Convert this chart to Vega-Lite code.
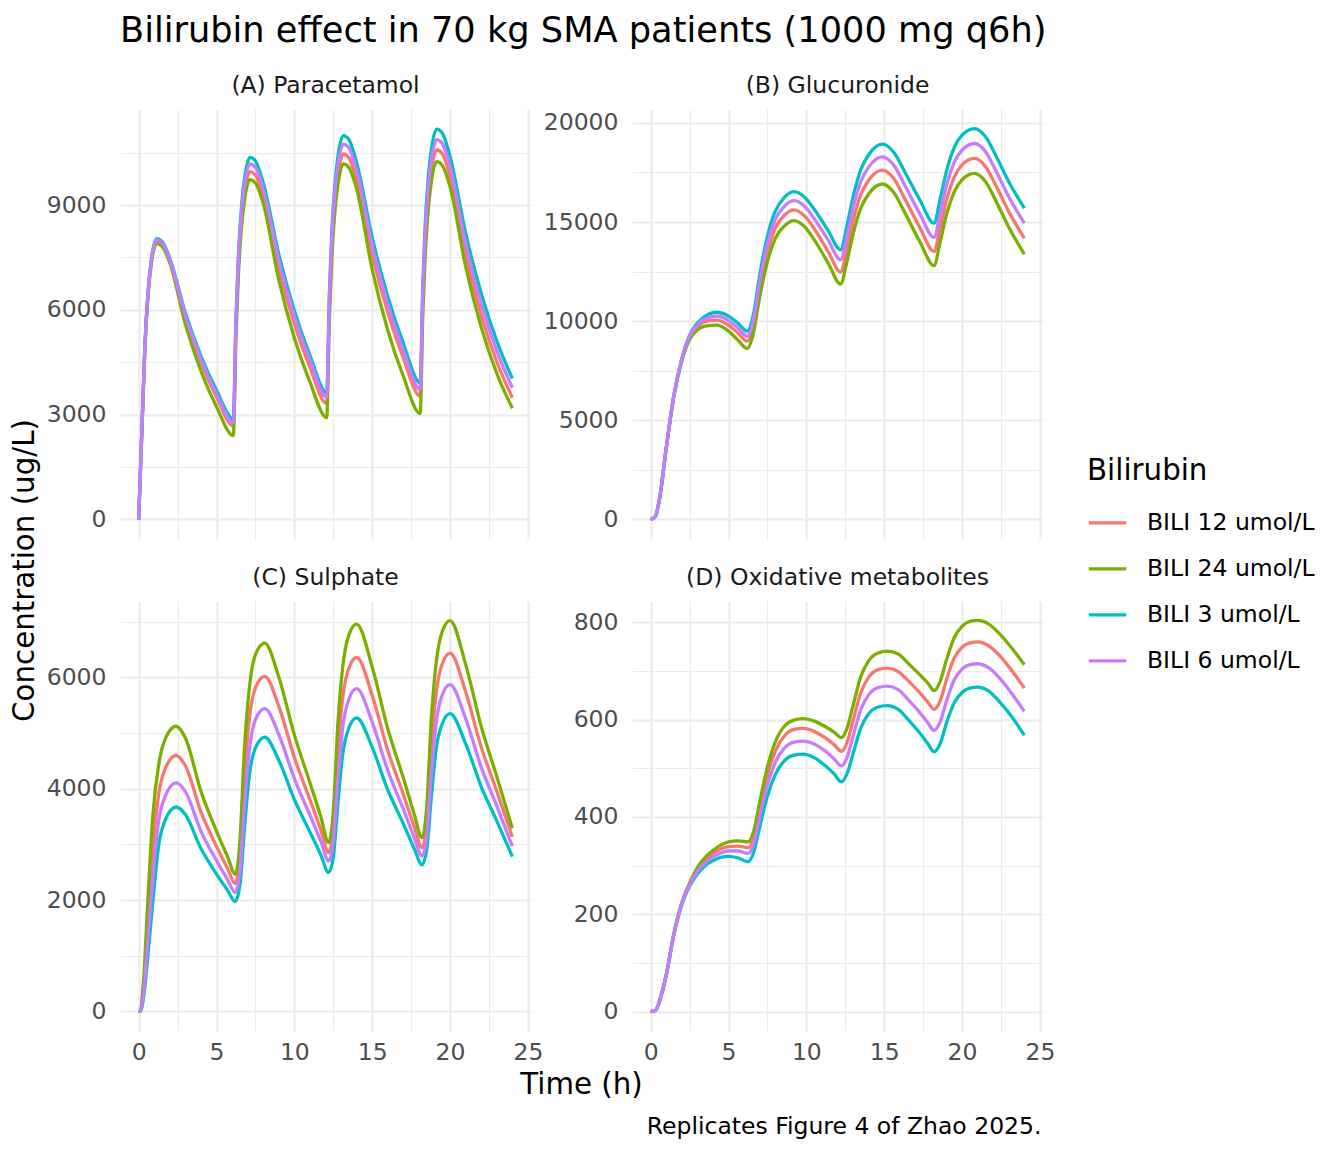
{
  "$schema": "https://vega.github.io/schema/vega-lite/v6.json",
  "background": "white",
  "padding": {"left": 10, "top": 14, "right": 10, "bottom": 10},
  "title": {
    "text": "Bilirubin effect in 70 kg SMA patients (1000 mg q6h)",
    "anchor": "start",
    "frame": "group",
    "fontSize": 35.2,
    "fontWeight": "normal",
    "color": "black",
    "offset": 24
  },
  "datasets": {
    "A": [
      {"t":0,"b":"BILI 12 umol/L","c":0},{"t":0.25,"b":"BILI 12 umol/L","c":3104},{"t":0.4,"b":"BILI 12 umol/L","c":4935},{"t":0.6,"b":"BILI 12 umol/L","c":6448},{"t":0.8,"b":"BILI 12 umol/L","c":7323},{"t":1.15,"b":"BILI 12 umol/L","c":7960},{"t":1.5,"b":"BILI 12 umol/L","c":7880},{"t":2,"b":"BILI 12 umol/L","c":7403},{"t":3,"b":"BILI 12 umol/L","c":5771},{"t":4,"b":"BILI 12 umol/L","c":4499},{"t":5,"b":"BILI 12 umol/L","c":3508},
      {"t":6.08,"b":"BILI 12 umol/L","c":2680},{"t":6.25,"b":"BILI 12 umol/L","c":5519},{"t":6.4,"b":"BILI 12 umol/L","c":7193},{"t":6.6,"b":"BILI 12 umol/L","c":8576},{"t":6.8,"b":"BILI 12 umol/L","c":9377},{"t":7.15,"b":"BILI 12 umol/L","c":9959},{"t":7.5,"b":"BILI 12 umol/L","c":9859},{"t":8,"b":"BILI 12 umol/L","c":9262},{"t":9,"b":"BILI 12 umol/L","c":7199},{"t":10,"b":"BILI 12 umol/L","c":5596},{"t":11,"b":"BILI 12 umol/L","c":4350},
      {"t":12.08,"b":"BILI 12 umol/L","c":3313},{"t":12.25,"b":"BILI 12 umol/L","c":6101},{"t":12.4,"b":"BILI 12 umol/L","c":7745},{"t":12.6,"b":"BILI 12 umol/L","c":9104},{"t":12.8,"b":"BILI 12 umol/L","c":9890},{"t":13.15,"b":"BILI 12 umol/L","c":10462},{"t":13.5,"b":"BILI 12 umol/L","c":10357},{"t":14,"b":"BILI 12 umol/L","c":9730},{"t":15,"b":"BILI 12 umol/L","c":7589},{"t":16,"b":"BILI 12 umol/L","c":5920},{"t":17,"b":"BILI 12 umol/L","c":4617},
      {"t":18.08,"b":"BILI 12 umol/L","c":3532},{"t":18.25,"b":"BILI 12 umol/L","c":6279},{"t":18.4,"b":"BILI 12 umol/L","c":7899},{"t":18.6,"b":"BILI 12 umol/L","c":9238},{"t":18.8,"b":"BILI 12 umol/L","c":10012},{"t":19.15,"b":"BILI 12 umol/L","c":10576},{"t":19.5,"b":"BILI 12 umol/L","c":10470},{"t":20,"b":"BILI 12 umol/L","c":9836},{"t":21,"b":"BILI 12 umol/L","c":7587},{"t":22,"b":"BILI 12 umol/L","c":5853},{"t":23,"b":"BILI 12 umol/L","c":4515},{"t":24,"b":"BILI 12 umol/L","c":3484},

      {"t":0,"b":"BILI 24 umol/L","c":0},{"t":0.25,"b":"BILI 24 umol/L","c":3081},{"t":0.4,"b":"BILI 24 umol/L","c":4897},{"t":0.6,"b":"BILI 24 umol/L","c":6398},{"t":0.8,"b":"BILI 24 umol/L","c":7267},{"t":1.15,"b":"BILI 24 umol/L","c":7899},{"t":1.5,"b":"BILI 24 umol/L","c":7820},{"t":2,"b":"BILI 24 umol/L","c":7346},{"t":3,"b":"BILI 24 umol/L","c":5585},{"t":4,"b":"BILI 24 umol/L","c":4245},{"t":5,"b":"BILI 24 umol/L","c":3228},
      {"t":6.08,"b":"BILI 24 umol/L","c":2400},{"t":6.25,"b":"BILI 24 umol/L","c":5259},{"t":6.4,"b":"BILI 24 umol/L","c":6945},{"t":6.6,"b":"BILI 24 umol/L","c":8338},{"t":6.8,"b":"BILI 24 umol/L","c":9145},{"t":7.15,"b":"BILI 24 umol/L","c":9731},{"t":7.5,"b":"BILI 24 umol/L","c":9634},{"t":8,"b":"BILI 24 umol/L","c":9050},{"t":9,"b":"BILI 24 umol/L","c":6855},{"t":10,"b":"BILI 24 umol/L","c":5193},{"t":11,"b":"BILI 24 umol/L","c":3934},
      {"t":12.08,"b":"BILI 24 umol/L","c":2915},{"t":12.25,"b":"BILI 24 umol/L","c":5748},{"t":12.4,"b":"BILI 24 umol/L","c":7418},{"t":12.6,"b":"BILI 24 umol/L","c":8798},{"t":12.8,"b":"BILI 24 umol/L","c":9597},{"t":13.15,"b":"BILI 24 umol/L","c":10178},{"t":13.5,"b":"BILI 24 umol/L","c":10076},{"t":14,"b":"BILI 24 umol/L","c":9466},{"t":15,"b":"BILI 24 umol/L","c":7159},{"t":16,"b":"BILI 24 umol/L","c":5414},{"t":17,"b":"BILI 24 umol/L","c":4095},
      {"t":18.08,"b":"BILI 24 umol/L","c":3029},{"t":18.25,"b":"BILI 24 umol/L","c":5843},{"t":18.4,"b":"BILI 24 umol/L","c":7502},{"t":18.6,"b":"BILI 24 umol/L","c":8873},{"t":18.8,"b":"BILI 24 umol/L","c":9667},{"t":19.15,"b":"BILI 24 umol/L","c":10244},{"t":19.5,"b":"BILI 24 umol/L","c":10142},{"t":20,"b":"BILI 24 umol/L","c":9527},{"t":21,"b":"BILI 24 umol/L","c":7242},{"t":22,"b":"BILI 24 umol/L","c":5506},{"t":23,"b":"BILI 24 umol/L","c":4185},{"t":24,"b":"BILI 24 umol/L","c":3181},

      {"t":0,"b":"BILI 3 umol/L","c":0},{"t":0.25,"b":"BILI 3 umol/L","c":3136},{"t":0.4,"b":"BILI 3 umol/L","c":4985},{"t":0.6,"b":"BILI 3 umol/L","c":6513},{"t":0.8,"b":"BILI 3 umol/L","c":7398},{"t":1.15,"b":"BILI 3 umol/L","c":8041},{"t":1.5,"b":"BILI 3 umol/L","c":7960},{"t":2,"b":"BILI 3 umol/L","c":7478},{"t":3,"b":"BILI 3 umol/L","c":5914},{"t":4,"b":"BILI 3 umol/L","c":4677},{"t":5,"b":"BILI 3 umol/L","c":3698},
      {"t":6.08,"b":"BILI 3 umol/L","c":2870},{"t":6.25,"b":"BILI 3 umol/L","c":5794},{"t":6.4,"b":"BILI 3 umol/L","c":7518},{"t":6.6,"b":"BILI 3 umol/L","c":8942},{"t":6.8,"b":"BILI 3 umol/L","c":9767},{"t":7.15,"b":"BILI 3 umol/L","c":10367},{"t":7.5,"b":"BILI 3 umol/L","c":10263},{"t":8,"b":"BILI 3 umol/L","c":9641},{"t":9,"b":"BILI 3 umol/L","c":7588},{"t":10,"b":"BILI 3 umol/L","c":5972},{"t":11,"b":"BILI 3 umol/L","c":4700},
      {"t":12.08,"b":"BILI 3 umol/L","c":3627},{"t":12.25,"b":"BILI 3 umol/L","c":6497},{"t":12.4,"b":"BILI 3 umol/L","c":8189},{"t":12.6,"b":"BILI 3 umol/L","c":9587},{"t":12.8,"b":"BILI 3 umol/L","c":10396},{"t":13.15,"b":"BILI 3 umol/L","c":10985},{"t":13.5,"b":"BILI 3 umol/L","c":10875},{"t":14,"b":"BILI 3 umol/L","c":10216},{"t":15,"b":"BILI 3 umol/L","c":8074},{"t":16,"b":"BILI 3 umol/L","c":6381},{"t":17,"b":"BILI 3 umol/L","c":5043},
      {"t":18.08,"b":"BILI 3 umol/L","c":3912},{"t":18.25,"b":"BILI 3 umol/L","c":6745},{"t":18.4,"b":"BILI 3 umol/L","c":8415},{"t":18.6,"b":"BILI 3 umol/L","c":9795},{"t":18.8,"b":"BILI 3 umol/L","c":10594},{"t":19.15,"b":"BILI 3 umol/L","c":11175},{"t":19.5,"b":"BILI 3 umol/L","c":11063},{"t":20,"b":"BILI 3 umol/L","c":10393},{"t":21,"b":"BILI 3 umol/L","c":8203},{"t":22,"b":"BILI 3 umol/L","c":6475},{"t":23,"b":"BILI 3 umol/L","c":5111},{"t":24,"b":"BILI 3 umol/L","c":4035},

      {"t":0,"b":"BILI 6 umol/L","c":0},{"t":0.25,"b":"BILI 6 umol/L","c":3120},{"t":0.4,"b":"BILI 6 umol/L","c":4960},{"t":0.6,"b":"BILI 6 umol/L","c":6480},{"t":0.8,"b":"BILI 6 umol/L","c":7360},{"t":1.15,"b":"BILI 6 umol/L","c":8000},{"t":1.5,"b":"BILI 6 umol/L","c":7920},{"t":2,"b":"BILI 6 umol/L","c":7440},{"t":3,"b":"BILI 6 umol/L","c":5840},{"t":4,"b":"BILI 6 umol/L","c":4584},{"t":5,"b":"BILI 6 umol/L","c":3598},
      {"t":6.08,"b":"BILI 6 umol/L","c":2770},{"t":6.25,"b":"BILI 6 umol/L","c":5659},{"t":6.4,"b":"BILI 6 umol/L","c":7363},{"t":6.6,"b":"BILI 6 umol/L","c":8770},{"t":6.8,"b":"BILI 6 umol/L","c":9585},{"t":7.15,"b":"BILI 6 umol/L","c":10178},{"t":7.5,"b":"BILI 6 umol/L","c":10076},{"t":8,"b":"BILI 6 umol/L","c":9466},{"t":9,"b":"BILI 6 umol/L","c":7419},{"t":10,"b":"BILI 6 umol/L","c":5815},{"t":11,"b":"BILI 6 umol/L","c":4558},
      {"t":12.08,"b":"BILI 6 umol/L","c":3503},{"t":12.25,"b":"BILI 6 umol/L","c":6328},{"t":12.4,"b":"BILI 6 umol/L","c":7994},{"t":12.6,"b":"BILI 6 umol/L","c":9371},{"t":12.8,"b":"BILI 6 umol/L","c":10167},{"t":13.15,"b":"BILI 6 umol/L","c":10747},{"t":13.5,"b":"BILI 6 umol/L","c":10640},{"t":14,"b":"BILI 6 umol/L","c":9995},{"t":15,"b":"BILI 6 umol/L","c":7846},{"t":16,"b":"BILI 6 umol/L","c":6159},{"t":17,"b":"BILI 6 umol/L","c":4835},
      {"t":18.08,"b":"BILI 6 umol/L","c":3722},{"t":18.25,"b":"BILI 6 umol/L","c":6510},{"t":18.4,"b":"BILI 6 umol/L","c":8154},{"t":18.6,"b":"BILI 6 umol/L","c":9513},{"t":18.8,"b":"BILI 6 umol/L","c":10299},{"t":19.15,"b":"BILI 6 umol/L","c":10871},{"t":19.5,"b":"BILI 6 umol/L","c":10762},{"t":20,"b":"BILI 6 umol/L","c":10110},{"t":21,"b":"BILI 6 umol/L","c":7900},{"t":22,"b":"BILI 6 umol/L","c":6173},{"t":23,"b":"BILI 6 umol/L","c":4824},{"t":24,"b":"BILI 6 umol/L","c":3769}
    ],
    "B": [
      {"t":0,"b":"BILI 12 umol/L","c":0},{"t":0.3,"b":"BILI 12 umol/L","c":150},{"t":0.6,"b":"BILI 12 umol/L","c":1200},{"t":1,"b":"BILI 12 umol/L","c":3600},{"t":1.5,"b":"BILI 12 umol/L","c":6300},{"t":2,"b":"BILI 12 umol/L","c":8050},{"t":2.5,"b":"BILI 12 umol/L","c":9180},{"t":3,"b":"BILI 12 umol/L","c":9700},{"t":3.5,"b":"BILI 12 umol/L","c":9980},{"t":4.25,"b":"BILI 12 umol/L","c":10050},{"t":5,"b":"BILI 12 umol/L","c":9800},{"t":5.6,"b":"BILI 12 umol/L","c":9400},
      {"t":6.2,"b":"BILI 12 umol/L","c":8995},{"t":6.6,"b":"BILI 12 umol/L","c":9789},{"t":7,"b":"BILI 12 umol/L","c":11641},{"t":7.5,"b":"BILI 12 umol/L","c":13494},{"t":8,"b":"BILI 12 umol/L","c":14685},{"t":8.6,"b":"BILI 12 umol/L","c":15346},{"t":9.2,"b":"BILI 12 umol/L","c":15611},{"t":9.9,"b":"BILI 12 umol/L","c":15298},{"t":10.6,"b":"BILI 12 umol/L","c":14546},{"t":11.4,"b":"BILI 12 umol/L","c":13513},
      {"t":12.2,"b":"BILI 12 umol/L","c":12479},{"t":12.6,"b":"BILI 12 umol/L","c":13610},{"t":13,"b":"BILI 12 umol/L","c":15050},{"t":13.5,"b":"BILI 12 umol/L","c":16387},{"t":14,"b":"BILI 12 umol/L","c":17107},{"t":14.9,"b":"BILI 12 umol/L","c":17621},{"t":15.6,"b":"BILI 12 umol/L","c":17211},{"t":16.4,"b":"BILI 12 umol/L","c":16061},{"t":17.3,"b":"BILI 12 umol/L","c":14707},
      {"t":18.2,"b":"BILI 12 umol/L","c":13517},{"t":18.6,"b":"BILI 12 umol/L","c":14736},{"t":19,"b":"BILI 12 umol/L","c":16097},{"t":19.5,"b":"BILI 12 umol/L","c":17269},{"t":20,"b":"BILI 12 umol/L","c":17879},{"t":20.8,"b":"BILI 12 umol/L","c":18207},{"t":21.5,"b":"BILI 12 umol/L","c":17805},{"t":22.2,"b":"BILI 12 umol/L","c":16800},{"t":23,"b":"BILI 12 umol/L","c":15526},{"t":24,"b":"BILI 12 umol/L","c":14187},

      {"t":0,"b":"BILI 24 umol/L","c":0},{"t":0.3,"b":"BILI 24 umol/L","c":150},{"t":0.6,"b":"BILI 24 umol/L","c":1200},{"t":1,"b":"BILI 24 umol/L","c":3600},{"t":1.5,"b":"BILI 24 umol/L","c":6250},{"t":2,"b":"BILI 24 umol/L","c":8000},{"t":2.5,"b":"BILI 24 umol/L","c":9080},{"t":3,"b":"BILI 24 umol/L","c":9550},{"t":3.5,"b":"BILI 24 umol/L","c":9750},{"t":4.25,"b":"BILI 24 umol/L","c":9800},{"t":5,"b":"BILI 24 umol/L","c":9500},{"t":5.6,"b":"BILI 24 umol/L","c":9050},
      {"t":6.2,"b":"BILI 24 umol/L","c":8626},{"t":6.6,"b":"BILI 24 umol/L","c":9400},{"t":7,"b":"BILI 24 umol/L","c":11206},{"t":7.5,"b":"BILI 24 umol/L","c":13011},{"t":8,"b":"BILI 24 umol/L","c":14172},{"t":8.6,"b":"BILI 24 umol/L","c":14816},{"t":9.2,"b":"BILI 24 umol/L","c":15075},{"t":9.9,"b":"BILI 24 umol/L","c":14755},{"t":10.6,"b":"BILI 24 umol/L","c":13987},{"t":11.4,"b":"BILI 24 umol/L","c":12932},
      {"t":12.2,"b":"BILI 24 umol/L","c":11876},{"t":12.6,"b":"BILI 24 umol/L","c":12985},{"t":13,"b":"BILI 24 umol/L","c":14397},{"t":13.5,"b":"BILI 24 umol/L","c":15708},{"t":14,"b":"BILI 24 umol/L","c":16414},{"t":14.9,"b":"BILI 24 umol/L","c":16918},{"t":15.6,"b":"BILI 24 umol/L","c":16506},{"t":16.4,"b":"BILI 24 umol/L","c":15352},{"t":17.3,"b":"BILI 24 umol/L","c":13992},
      {"t":18.2,"b":"BILI 24 umol/L","c":12797},{"t":18.6,"b":"BILI 24 umol/L","c":14008},{"t":19,"b":"BILI 24 umol/L","c":15358},{"t":19.5,"b":"BILI 24 umol/L","c":16523},{"t":20,"b":"BILI 24 umol/L","c":17128},{"t":20.8,"b":"BILI 24 umol/L","c":17454},{"t":21.5,"b":"BILI 24 umol/L","c":17047},{"t":22.2,"b":"BILI 24 umol/L","c":16029},{"t":23,"b":"BILI 24 umol/L","c":14739},{"t":24,"b":"BILI 24 umol/L","c":13383},

      {"t":0,"b":"BILI 3 umol/L","c":0},{"t":0.3,"b":"BILI 3 umol/L","c":150},{"t":0.6,"b":"BILI 3 umol/L","c":1200},{"t":1,"b":"BILI 3 umol/L","c":3600},{"t":1.5,"b":"BILI 3 umol/L","c":6300},{"t":2,"b":"BILI 3 umol/L","c":8100},{"t":2.5,"b":"BILI 3 umol/L","c":9300},{"t":3,"b":"BILI 3 umol/L","c":9900},{"t":3.5,"b":"BILI 3 umol/L","c":10250},{"t":4.25,"b":"BILI 3 umol/L","c":10450},{"t":5,"b":"BILI 3 umol/L","c":10250},{"t":5.6,"b":"BILI 3 umol/L","c":9900},
      {"t":6.2,"b":"BILI 3 umol/L","c":9497},{"t":6.6,"b":"BILI 3 umol/L","c":10341},{"t":7,"b":"BILI 3 umol/L","c":12311},{"t":7.5,"b":"BILI 3 umol/L","c":14281},{"t":8,"b":"BILI 3 umol/L","c":15547},{"t":8.6,"b":"BILI 3 umol/L","c":16251},{"t":9.2,"b":"BILI 3 umol/L","c":16532},{"t":9.9,"b":"BILI 3 umol/L","c":16239},{"t":10.6,"b":"BILI 3 umol/L","c":15535},{"t":11.4,"b":"BILI 3 umol/L","c":14568},
      {"t":12.2,"b":"BILI 3 umol/L","c":13601},{"t":12.6,"b":"BILI 3 umol/L","c":14773},{"t":13,"b":"BILI 3 umol/L","c":16265},{"t":13.5,"b":"BILI 3 umol/L","c":17650},{"t":14,"b":"BILI 3 umol/L","c":18395},{"t":14.9,"b":"BILI 3 umol/L","c":18928},{"t":15.6,"b":"BILI 3 umol/L","c":18529},{"t":16.4,"b":"BILI 3 umol/L","c":17413},{"t":17.3,"b":"BILI 3 umol/L","c":16097},
      {"t":18.2,"b":"BILI 3 umol/L","c":14941},{"t":18.6,"b":"BILI 3 umol/L","c":16182},{"t":19,"b":"BILI 3 umol/L","c":17567},{"t":19.5,"b":"BILI 3 umol/L","c":18760},{"t":20,"b":"BILI 3 umol/L","c":19381},{"t":20.8,"b":"BILI 3 umol/L","c":19715},{"t":21.5,"b":"BILI 3 umol/L","c":19313},{"t":22.2,"b":"BILI 3 umol/L","c":18308},{"t":23,"b":"BILI 3 umol/L","c":17034},{"t":24,"b":"BILI 3 umol/L","c":15695},

      {"t":0,"b":"BILI 6 umol/L","c":0},{"t":0.3,"b":"BILI 6 umol/L","c":150},{"t":0.6,"b":"BILI 6 umol/L","c":1200},{"t":1,"b":"BILI 6 umol/L","c":3600},{"t":1.5,"b":"BILI 6 umol/L","c":6300},{"t":2,"b":"BILI 6 umol/L","c":8100},{"t":2.5,"b":"BILI 6 umol/L","c":9250},{"t":3,"b":"BILI 6 umol/L","c":9800},{"t":3.5,"b":"BILI 6 umol/L","c":10120},{"t":4.25,"b":"BILI 6 umol/L","c":10250},{"t":5,"b":"BILI 6 umol/L","c":10030},{"t":5.6,"b":"BILI 6 umol/L","c":9650},
      {"t":6.2,"b":"BILI 6 umol/L","c":9246},{"t":6.6,"b":"BILI 6 umol/L","c":10066},{"t":7,"b":"BILI 6 umol/L","c":11980},{"t":7.5,"b":"BILI 6 umol/L","c":13893},{"t":8,"b":"BILI 6 umol/L","c":15123},{"t":8.6,"b":"BILI 6 umol/L","c":15807},{"t":9.2,"b":"BILI 6 umol/L","c":16080},{"t":9.9,"b":"BILI 6 umol/L","c":15782},{"t":10.6,"b":"BILI 6 umol/L","c":15066},{"t":11.4,"b":"BILI 6 umol/L","c":14083},
      {"t":12.2,"b":"BILI 6 umol/L","c":13099},{"t":12.6,"b":"BILI 6 umol/L","c":14241},{"t":13,"b":"BILI 6 umol/L","c":15695},{"t":13.5,"b":"BILI 6 umol/L","c":17045},{"t":14,"b":"BILI 6 umol/L","c":17772},{"t":14.9,"b":"BILI 6 umol/L","c":18291},{"t":15.6,"b":"BILI 6 umol/L","c":17884},{"t":16.4,"b":"BILI 6 umol/L","c":16744},{"t":17.3,"b":"BILI 6 umol/L","c":15401},
      {"t":18.2,"b":"BILI 6 umol/L","c":14221},{"t":18.6,"b":"BILI 6 umol/L","c":15453},{"t":19,"b":"BILI 6 umol/L","c":16828},{"t":19.5,"b":"BILI 6 umol/L","c":18013},{"t":20,"b":"BILI 6 umol/L","c":18629},{"t":20.8,"b":"BILI 6 umol/L","c":18961},{"t":21.5,"b":"BILI 6 umol/L","c":18559},{"t":22.2,"b":"BILI 6 umol/L","c":17554},{"t":23,"b":"BILI 6 umol/L","c":16280},{"t":24,"b":"BILI 6 umol/L","c":14941}
    ],
    "C": [
      {"t":0,"b":"BILI 12 umol/L","c":0},{"t":0.1,"b":"BILI 12 umol/L","c":0},{"t":0.3,"b":"BILI 12 umol/L","c":391},{"t":0.6,"b":"BILI 12 umol/L","c":1655},{"t":0.9,"b":"BILI 12 umol/L","c":2896},{"t":1.3,"b":"BILI 12 umol/L","c":3930},{"t":1.7,"b":"BILI 12 umol/L","c":4358},{"t":2.4,"b":"BILI 12 umol/L","c":4597},{"t":3,"b":"BILI 12 umol/L","c":4413},{"t":4,"b":"BILI 12 umol/L","c":3585},{"t":5,"b":"BILI 12 umol/L","c":2965},{"t":5.7,"b":"BILI 12 umol/L","c":2574},
      {"t":6.2,"b":"BILI 12 umol/L","c":2298},{"t":6.5,"b":"BILI 12 umol/L","c":2782},{"t":6.8,"b":"BILI 12 umol/L","c":4232},{"t":7.1,"b":"BILI 12 umol/L","c":5237},{"t":7.5,"b":"BILI 12 umol/L","c":5813},{"t":8.1,"b":"BILI 12 umol/L","c":6018},{"t":9,"b":"BILI 12 umol/L","c":5480},{"t":10,"b":"BILI 12 umol/L","c":4563},{"t":11,"b":"BILI 12 umol/L","c":3803},{"t":11.7,"b":"BILI 12 umol/L","c":3265},
      {"t":12.2,"b":"BILI 12 umol/L","c":2854},{"t":12.5,"b":"BILI 12 umol/L","c":3310},{"t":12.8,"b":"BILI 12 umol/L","c":4676},{"t":13.1,"b":"BILI 12 umol/L","c":5622},{"t":13.5,"b":"BILI 12 umol/L","c":6165},{"t":14,"b":"BILI 12 umol/L","c":6358},{"t":15,"b":"BILI 12 umol/L","c":5675},{"t":16,"b":"BILI 12 umol/L","c":4685},{"t":17,"b":"BILI 12 umol/L","c":3899},{"t":17.7,"b":"BILI 12 umol/L","c":3319},
      {"t":18.2,"b":"BILI 12 umol/L","c":2943},{"t":18.5,"b":"BILI 12 umol/L","c":3397},{"t":18.8,"b":"BILI 12 umol/L","c":4759},{"t":19.1,"b":"BILI 12 umol/L","c":5702},{"t":19.5,"b":"BILI 12 umol/L","c":6244},{"t":20,"b":"BILI 12 umol/L","c":6436},{"t":21,"b":"BILI 12 umol/L","c":5743},{"t":22,"b":"BILI 12 umol/L","c":4752},{"t":23,"b":"BILI 12 umol/L","c":3960},{"t":24,"b":"BILI 12 umol/L","c":3134},

      {"t":0,"b":"BILI 24 umol/L","c":0},{"t":0.1,"b":"BILI 24 umol/L","c":0},{"t":0.3,"b":"BILI 24 umol/L","c":512},{"t":0.6,"b":"BILI 24 umol/L","c":2049},{"t":0.9,"b":"BILI 24 umol/L","c":3483},{"t":1.3,"b":"BILI 24 umol/L","c":4456},{"t":1.7,"b":"BILI 24 umol/L","c":4892},{"t":2.4,"b":"BILI 24 umol/L","c":5122},{"t":3,"b":"BILI 24 umol/L","c":4910},{"t":4,"b":"BILI 24 umol/L","c":3953},{"t":5,"b":"BILI 24 umol/L","c":3236},{"t":5.7,"b":"BILI 24 umol/L","c":2785},
      {"t":6.2,"b":"BILI 24 umol/L","c":2466},{"t":6.5,"b":"BILI 24 umol/L","c":3047},{"t":6.8,"b":"BILI 24 umol/L","c":4748},{"t":7.1,"b":"BILI 24 umol/L","c":5785},{"t":7.5,"b":"BILI 24 umol/L","c":6408},{"t":8.1,"b":"BILI 24 umol/L","c":6615},{"t":9,"b":"BILI 24 umol/L","c":6006},{"t":10,"b":"BILI 24 umol/L","c":4967},{"t":11,"b":"BILI 24 umol/L","c":4108},{"t":11.7,"b":"BILI 24 umol/L","c":3499},
      {"t":12.2,"b":"BILI 24 umol/L","c":3033},{"t":12.5,"b":"BILI 24 umol/L","c":3582},{"t":12.8,"b":"BILI 24 umol/L","c":5190},{"t":13.1,"b":"BILI 24 umol/L","c":6171},{"t":13.5,"b":"BILI 24 umol/L","c":6759},{"t":14,"b":"BILI 24 umol/L","c":6955},{"t":15,"b":"BILI 24 umol/L","c":6188},{"t":16,"b":"BILI 24 umol/L","c":5077},{"t":17,"b":"BILI 24 umol/L","c":4195},{"t":17.7,"b":"BILI 24 umol/L","c":3544},
      {"t":18.2,"b":"BILI 24 umol/L","c":3122},{"t":18.5,"b":"BILI 24 umol/L","c":3668},{"t":18.8,"b":"BILI 24 umol/L","c":5266},{"t":19.1,"b":"BILI 24 umol/L","c":6241},{"t":19.5,"b":"BILI 24 umol/L","c":6826},{"t":20,"b":"BILI 24 umol/L","c":7021},{"t":21,"b":"BILI 24 umol/L","c":6237},{"t":22,"b":"BILI 24 umol/L","c":5118},{"t":23,"b":"BILI 24 umol/L","c":4222},{"t":24,"b":"BILI 24 umol/L","c":3289},

      {"t":0,"b":"BILI 3 umol/L","c":0},{"t":0.1,"b":"BILI 3 umol/L","c":0},{"t":0.3,"b":"BILI 3 umol/L","c":220},{"t":0.6,"b":"BILI 3 umol/L","c":1028},{"t":0.9,"b":"BILI 3 umol/L","c":1946},{"t":1.3,"b":"BILI 3 umol/L","c":3011},{"t":1.7,"b":"BILI 3 umol/L","c":3433},{"t":2.4,"b":"BILI 3 umol/L","c":3672},{"t":3,"b":"BILI 3 umol/L","c":3536},{"t":4,"b":"BILI 3 umol/L","c":2926},{"t":5,"b":"BILI 3 umol/L","c":2468},{"t":5.7,"b":"BILI 3 umol/L","c":2180},
      {"t":6.2,"b":"BILI 3 umol/L","c":1976},{"t":6.5,"b":"BILI 3 umol/L","c":2271},{"t":6.8,"b":"BILI 3 umol/L","c":3303},{"t":7.1,"b":"BILI 3 umol/L","c":4217},{"t":7.5,"b":"BILI 3 umol/L","c":4733},{"t":8.1,"b":"BILI 3 umol/L","c":4925},{"t":9,"b":"BILI 3 umol/L","c":4512},{"t":10,"b":"BILI 3 umol/L","c":3807},{"t":11,"b":"BILI 3 umol/L","c":3224},{"t":11.7,"b":"BILI 3 umol/L","c":2811},
      {"t":12.2,"b":"BILI 3 umol/L","c":2495},{"t":12.5,"b":"BILI 3 umol/L","c":2773},{"t":12.8,"b":"BILI 3 umol/L","c":3745},{"t":13.1,"b":"BILI 3 umol/L","c":4606},{"t":13.5,"b":"BILI 3 umol/L","c":5091},{"t":14,"b":"BILI 3 umol/L","c":5272},{"t":15,"b":"BILI 3 umol/L","c":4744},{"t":16,"b":"BILI 3 umol/L","c":3979},{"t":17,"b":"BILI 3 umol/L","c":3372},{"t":17.7,"b":"BILI 3 umol/L","c":2923},
      {"t":18.2,"b":"BILI 3 umol/L","c":2633},{"t":18.5,"b":"BILI 3 umol/L","c":2905},{"t":18.8,"b":"BILI 3 umol/L","c":3855},{"t":19.1,"b":"BILI 3 umol/L","c":4697},{"t":19.5,"b":"BILI 3 umol/L","c":5172},{"t":20,"b":"BILI 3 umol/L","c":5349},{"t":21,"b":"BILI 3 umol/L","c":4810},{"t":22,"b":"BILI 3 umol/L","c":4040},{"t":23,"b":"BILI 3 umol/L","c":3424},{"t":24,"b":"BILI 3 umol/L","c":2782},

      {"t":0,"b":"BILI 6 umol/L","c":0},{"t":0.1,"b":"BILI 6 umol/L","c":0},{"t":0.3,"b":"BILI 6 umol/L","c":287},{"t":0.6,"b":"BILI 6 umol/L","c":1314},{"t":0.9,"b":"BILI 6 umol/L","c":2382},{"t":1.3,"b":"BILI 6 umol/L","c":3450},{"t":1.7,"b":"BILI 6 umol/L","c":3861},{"t":2.4,"b":"BILI 6 umol/L","c":4107},{"t":3,"b":"BILI 6 umol/L","c":3949},{"t":4,"b":"BILI 6 umol/L","c":3240},{"t":5,"b":"BILI 6 umol/L","c":2708},{"t":5.7,"b":"BILI 6 umol/L","c":2373},
      {"t":6.2,"b":"BILI 6 umol/L","c":2137},{"t":6.5,"b":"BILI 6 umol/L","c":2517},{"t":6.8,"b":"BILI 6 umol/L","c":3722},{"t":7.1,"b":"BILI 6 umol/L","c":4680},{"t":7.5,"b":"BILI 6 umol/L","c":5241},{"t":8.1,"b":"BILI 6 umol/L","c":5439},{"t":9,"b":"BILI 6 umol/L","c":4974},{"t":10,"b":"BILI 6 umol/L","c":4181},{"t":11,"b":"BILI 6 umol/L","c":3525},{"t":11.7,"b":"BILI 6 umol/L","c":3060},
      {"t":12.2,"b":"BILI 6 umol/L","c":2704},{"t":12.5,"b":"BILI 6 umol/L","c":3060},{"t":12.8,"b":"BILI 6 umol/L","c":4189},{"t":13.1,"b":"BILI 6 umol/L","c":5086},{"t":13.5,"b":"BILI 6 umol/L","c":5611},{"t":14,"b":"BILI 6 umol/L","c":5797},{"t":15,"b":"BILI 6 umol/L","c":5196},{"t":16,"b":"BILI 6 umol/L","c":4326},{"t":17,"b":"BILI 6 umol/L","c":3635},{"t":17.7,"b":"BILI 6 umol/L","c":3124},
      {"t":18.2,"b":"BILI 6 umol/L","c":2794},{"t":18.5,"b":"BILI 6 umol/L","c":3148},{"t":18.8,"b":"BILI 6 umol/L","c":4270},{"t":19.1,"b":"BILI 6 umol/L","c":5162},{"t":19.5,"b":"BILI 6 umol/L","c":5685},{"t":20,"b":"BILI 6 umol/L","c":5869},{"t":21,"b":"BILI 6 umol/L","c":5260},{"t":22,"b":"BILI 6 umol/L","c":4389},{"t":23,"b":"BILI 6 umol/L","c":3693},{"t":24,"b":"BILI 6 umol/L","c":2967}
    ],
    "D": [
      {"t":0,"b":"BILI 12 umol/L","c":0},{"t":0.3,"b":"BILI 12 umol/L","c":2},{"t":0.6,"b":"BILI 12 umol/L","c":25},{"t":1,"b":"BILI 12 umol/L","c":75},{"t":1.5,"b":"BILI 12 umol/L","c":161},{"t":2,"b":"BILI 12 umol/L","c":222},{"t":2.5,"b":"BILI 12 umol/L","c":262},{"t":3,"b":"BILI 12 umol/L","c":292},{"t":3.5,"b":"BILI 12 umol/L","c":312},{"t":4,"b":"BILI 12 umol/L","c":325},{"t":4.5,"b":"BILI 12 umol/L","c":334},{"t":5,"b":"BILI 12 umol/L","c":339},{"t":5.6,"b":"BILI 12 umol/L","c":340},
      {"t":6.25,"b":"BILI 12 umol/L","c":337},{"t":6.6,"b":"BILI 12 umol/L","c":357},{"t":7,"b":"BILI 12 umol/L","c":415},{"t":7.5,"b":"BILI 12 umol/L","c":486},{"t":8,"b":"BILI 12 umol/L","c":535},{"t":8.6,"b":"BILI 12 umol/L","c":567},{"t":9.2,"b":"BILI 12 umol/L","c":580},{"t":9.8,"b":"BILI 12 umol/L","c":582},{"t":10.5,"b":"BILI 12 umol/L","c":576},{"t":11.2,"b":"BILI 12 umol/L","c":563},{"t":11.8,"b":"BILI 12 umol/L","c":548},
      {"t":12.25,"b":"BILI 12 umol/L","c":535},{"t":12.6,"b":"BILI 12 umol/L","c":552},{"t":13,"b":"BILI 12 umol/L","c":598},{"t":13.5,"b":"BILI 12 umol/L","c":656},{"t":14,"b":"BILI 12 umol/L","c":687},{"t":14.6,"b":"BILI 12 umol/L","c":703},{"t":15.2,"b":"BILI 12 umol/L","c":706},{"t":15.9,"b":"BILI 12 umol/L","c":699},{"t":16.6,"b":"BILI 12 umol/L","c":678},{"t":17.3,"b":"BILI 12 umol/L","c":655},{"t":17.8,"b":"BILI 12 umol/L","c":636},
      {"t":18.2,"b":"BILI 12 umol/L","c":621},{"t":18.6,"b":"BILI 12 umol/L","c":639},{"t":19,"b":"BILI 12 umol/L","c":682},{"t":19.5,"b":"BILI 12 umol/L","c":727},{"t":20,"b":"BILI 12 umol/L","c":749},{"t":20.5,"b":"BILI 12 umol/L","c":758},{"t":21,"b":"BILI 12 umol/L","c":760},{"t":21.7,"b":"BILI 12 umol/L","c":752},{"t":22.4,"b":"BILI 12 umol/L","c":732},{"t":23.1,"b":"BILI 12 umol/L","c":705},{"t":24,"b":"BILI 12 umol/L","c":665},

      {"t":0,"b":"BILI 24 umol/L","c":0},{"t":0.3,"b":"BILI 24 umol/L","c":2},{"t":0.6,"b":"BILI 24 umol/L","c":25},{"t":1,"b":"BILI 24 umol/L","c":76},{"t":1.5,"b":"BILI 24 umol/L","c":162},{"t":2,"b":"BILI 24 umol/L","c":224},{"t":2.5,"b":"BILI 24 umol/L","c":264},{"t":3,"b":"BILI 24 umol/L","c":296},{"t":3.5,"b":"BILI 24 umol/L","c":317},{"t":4,"b":"BILI 24 umol/L","c":331},{"t":4.5,"b":"BILI 24 umol/L","c":342},{"t":5,"b":"BILI 24 umol/L","c":349},{"t":5.6,"b":"BILI 24 umol/L","c":351},
      {"t":6.25,"b":"BILI 24 umol/L","c":349},{"t":6.6,"b":"BILI 24 umol/L","c":369},{"t":7,"b":"BILI 24 umol/L","c":430},{"t":7.5,"b":"BILI 24 umol/L","c":503},{"t":8,"b":"BILI 24 umol/L","c":554},{"t":8.6,"b":"BILI 24 umol/L","c":587},{"t":9.2,"b":"BILI 24 umol/L","c":599},{"t":9.8,"b":"BILI 24 umol/L","c":602},{"t":10.5,"b":"BILI 24 umol/L","c":597},{"t":11.2,"b":"BILI 24 umol/L","c":586},{"t":11.8,"b":"BILI 24 umol/L","c":574},
      {"t":12.25,"b":"BILI 24 umol/L","c":563},{"t":12.6,"b":"BILI 24 umol/L","c":581},{"t":13,"b":"BILI 24 umol/L","c":629},{"t":13.5,"b":"BILI 24 umol/L","c":689},{"t":14,"b":"BILI 24 umol/L","c":721},{"t":14.6,"b":"BILI 24 umol/L","c":737},{"t":15.2,"b":"BILI 24 umol/L","c":741},{"t":15.9,"b":"BILI 24 umol/L","c":735},{"t":16.6,"b":"BILI 24 umol/L","c":714},{"t":17.3,"b":"BILI 24 umol/L","c":692},{"t":17.8,"b":"BILI 24 umol/L","c":675},
      {"t":18.2,"b":"BILI 24 umol/L","c":660},{"t":18.6,"b":"BILI 24 umol/L","c":679},{"t":19,"b":"BILI 24 umol/L","c":723},{"t":19.5,"b":"BILI 24 umol/L","c":769},{"t":20,"b":"BILI 24 umol/L","c":792},{"t":20.5,"b":"BILI 24 umol/L","c":802},{"t":21,"b":"BILI 24 umol/L","c":804},{"t":21.7,"b":"BILI 24 umol/L","c":797},{"t":22.4,"b":"BILI 24 umol/L","c":777},{"t":23.1,"b":"BILI 24 umol/L","c":751},{"t":24,"b":"BILI 24 umol/L","c":713},

      {"t":0,"b":"BILI 3 umol/L","c":0},{"t":0.3,"b":"BILI 3 umol/L","c":2},{"t":0.6,"b":"BILI 3 umol/L","c":25},{"t":1,"b":"BILI 3 umol/L","c":75},{"t":1.5,"b":"BILI 3 umol/L","c":160},{"t":2,"b":"BILI 3 umol/L","c":220},{"t":2.5,"b":"BILI 3 umol/L","c":258},{"t":3,"b":"BILI 3 umol/L","c":283},{"t":3.5,"b":"BILI 3 umol/L","c":300},{"t":4,"b":"BILI 3 umol/L","c":310},{"t":4.5,"b":"BILI 3 umol/L","c":317},{"t":5,"b":"BILI 3 umol/L","c":319},{"t":5.6,"b":"BILI 3 umol/L","c":316},
      {"t":6.25,"b":"BILI 3 umol/L","c":308},{"t":6.6,"b":"BILI 3 umol/L","c":326},{"t":7,"b":"BILI 3 umol/L","c":379},{"t":7.5,"b":"BILI 3 umol/L","c":443},{"t":8,"b":"BILI 3 umol/L","c":487},{"t":8.6,"b":"BILI 3 umol/L","c":516},{"t":9.2,"b":"BILI 3 umol/L","c":527},{"t":9.8,"b":"BILI 3 umol/L","c":529},{"t":10.5,"b":"BILI 3 umol/L","c":522},{"t":11.2,"b":"BILI 3 umol/L","c":506},{"t":11.8,"b":"BILI 3 umol/L","c":488},
      {"t":12.25,"b":"BILI 3 umol/L","c":472},{"t":12.6,"b":"BILI 3 umol/L","c":488},{"t":13,"b":"BILI 3 umol/L","c":530},{"t":13.5,"b":"BILI 3 umol/L","c":583},{"t":14,"b":"BILI 3 umol/L","c":612},{"t":14.6,"b":"BILI 3 umol/L","c":626},{"t":15.2,"b":"BILI 3 umol/L","c":629},{"t":15.9,"b":"BILI 3 umol/L","c":621},{"t":16.6,"b":"BILI 3 umol/L","c":598},{"t":17.3,"b":"BILI 3 umol/L","c":572},{"t":17.8,"b":"BILI 3 umol/L","c":551},
      {"t":18.2,"b":"BILI 3 umol/L","c":534},{"t":18.6,"b":"BILI 3 umol/L","c":551},{"t":19,"b":"BILI 3 umol/L","c":593},{"t":19.5,"b":"BILI 3 umol/L","c":635},{"t":20,"b":"BILI 3 umol/L","c":656},{"t":20.5,"b":"BILI 3 umol/L","c":665},{"t":21,"b":"BILI 3 umol/L","c":667},{"t":21.7,"b":"BILI 3 umol/L","c":659},{"t":22.4,"b":"BILI 3 umol/L","c":637},{"t":23.1,"b":"BILI 3 umol/L","c":610},{"t":24,"b":"BILI 3 umol/L","c":568},

      {"t":0,"b":"BILI 6 umol/L","c":0},{"t":0.3,"b":"BILI 6 umol/L","c":2},{"t":0.6,"b":"BILI 6 umol/L","c":25},{"t":1,"b":"BILI 6 umol/L","c":75},{"t":1.5,"b":"BILI 6 umol/L","c":160},{"t":2,"b":"BILI 6 umol/L","c":221},{"t":2.5,"b":"BILI 6 umol/L","c":260},{"t":3,"b":"BILI 6 umol/L","c":288},{"t":3.5,"b":"BILI 6 umol/L","c":306},{"t":4,"b":"BILI 6 umol/L","c":318},{"t":4.5,"b":"BILI 6 umol/L","c":326},{"t":5,"b":"BILI 6 umol/L","c":330},{"t":5.6,"b":"BILI 6 umol/L","c":330},
      {"t":6.25,"b":"BILI 6 umol/L","c":325},{"t":6.6,"b":"BILI 6 umol/L","c":343},{"t":7,"b":"BILI 6 umol/L","c":399},{"t":7.5,"b":"BILI 6 umol/L","c":466},{"t":8,"b":"BILI 6 umol/L","c":512},{"t":8.6,"b":"BILI 6 umol/L","c":542},{"t":9.2,"b":"BILI 6 umol/L","c":554},{"t":9.8,"b":"BILI 6 umol/L","c":556},{"t":10.5,"b":"BILI 6 umol/L","c":550},{"t":11.2,"b":"BILI 6 umol/L","c":536},{"t":11.8,"b":"BILI 6 umol/L","c":519},
      {"t":12.25,"b":"BILI 6 umol/L","c":505},{"t":12.6,"b":"BILI 6 umol/L","c":521},{"t":13,"b":"BILI 6 umol/L","c":566},{"t":13.5,"b":"BILI 6 umol/L","c":621},{"t":14,"b":"BILI 6 umol/L","c":651},{"t":14.6,"b":"BILI 6 umol/L","c":666},{"t":15.2,"b":"BILI 6 umol/L","c":669},{"t":15.9,"b":"BILI 6 umol/L","c":662},{"t":16.6,"b":"BILI 6 umol/L","c":639},{"t":17.3,"b":"BILI 6 umol/L","c":614},{"t":17.8,"b":"BILI 6 umol/L","c":594},
      {"t":18.2,"b":"BILI 6 umol/L","c":578},{"t":18.6,"b":"BILI 6 umol/L","c":596},{"t":19,"b":"BILI 6 umol/L","c":638},{"t":19.5,"b":"BILI 6 umol/L","c":682},{"t":20,"b":"BILI 6 umol/L","c":704},{"t":20.5,"b":"BILI 6 umol/L","c":713},{"t":21,"b":"BILI 6 umol/L","c":715},{"t":21.7,"b":"BILI 6 umol/L","c":707},{"t":22.4,"b":"BILI 6 umol/L","c":686},{"t":23.1,"b":"BILI 6 umol/L","c":658},{"t":24,"b":"BILI 6 umol/L","c":617}
    ]
  },
  "bounds": "flush",
  "columns": 2,
  "spacing": {"row": 62, "column": 101},
  "concat": [
    {
      "title": {"text": "(A) Paracetamol"},
      "width": 411,
      "height": 430,
      "data": {"name": "A"},
      "mark": {"type": "line", "interpolate": "monotone", "strokeWidth": 3.3},
      "encoding": {
        "x": {
          "field": "t", "type": "quantitative",
          "scale": {"domain": [-1.2, 25.2], "nice": false, "zero": false},
          "axis": {
            "values": [0, 2.5, 5, 7.5, 10, 12.5, 15, 17.5, 20, 22.5, 25],
            "labels": false, "title": null,
            "gridWidth": {"condition": {"test": "datum.value % 5 === 0", "value": 2.2}, "value": 1.1}
          }
        },
        "y": {
          "field": "c", "type": "quantitative",
          "scale": {"domain": [-560, 11750], "nice": false, "zero": false},
          "axis": {
            "values": [0, 1500, 3000, 4500, 6000, 7500, 9000, 10500],
            "format": "d",
            "labelExpr": "datum.value % 3000 === 0 ? datum.label : ''",
            "gridWidth": {"condition": {"test": "datum.value % 3000 === 0", "value": 2.2}, "value": 1.1},
            "title": "Concentration (ug/L)",
            "titleX": -96,
            "titleY": 461,
            "titleAngle": -90,
            "titleAlign": "center",
            "titleBaseline": "middle"
          }
        },
        "color": {"field": "b", "type": "nominal", "title": "Bilirubin"}
      }
    },
    {
      "title": {"text": "(B) Glucuronide"},
      "width": 411,
      "height": 430,
      "data": {"name": "B"},
      "mark": {"type": "line", "interpolate": "monotone", "strokeWidth": 3.3},
      "encoding": {
        "x": {
          "field": "t", "type": "quantitative",
          "scale": {"domain": [-1.2, 25.2], "nice": false, "zero": false},
          "axis": {
            "values": [0, 2.5, 5, 7.5, 10, 12.5, 15, 17.5, 20, 22.5, 25],
            "labels": false, "title": null,
            "gridWidth": {"condition": {"test": "datum.value % 5 === 0", "value": 2.2}, "value": 1.1}
          }
        },
        "y": {
          "field": "c", "type": "quantitative",
          "scale": {"domain": [-986, 20701], "nice": false, "zero": false},
          "axis": {
            "values": [0, 2500, 5000, 7500, 10000, 12500, 15000, 17500, 20000],
            "format": "d",
            "labelExpr": "datum.value % 5000 === 0 ? datum.label : ''",
            "gridWidth": {"condition": {"test": "datum.value % 5000 === 0", "value": 2.2}, "value": 1.1},
            "title": null
          }
        },
        "color": {"field": "b", "type": "nominal", "title": "Bilirubin"}
      }
    },
    {
      "title": {"text": "(C) Sulphate"},
      "width": 411,
      "height": 430,
      "data": {"name": "C"},
      "mark": {"type": "line", "interpolate": "monotone", "strokeWidth": 3.3},
      "encoding": {
        "x": {
          "field": "t", "type": "quantitative",
          "scale": {"domain": [-1.2, 25.2], "nice": false, "zero": false},
          "axis": {
            "values": [0, 2.5, 5, 7.5, 10, 12.5, 15, 17.5, 20, 22.5, 25],
            "labelExpr": "datum.value % 5 === 0 ? datum.label : ''",
            "labelPadding": 9,
            "gridWidth": {"condition": {"test": "datum.value % 5 === 0", "value": 2.2}, "value": 1.1},
            "title": "Time (h)",
            "titleX": 461,
            "titleY": 53,
            "titleAlign": "center",
            "titleBaseline": "middle"
          }
        },
        "y": {
          "field": "c", "type": "quantitative",
          "scale": {"domain": [-351, 7372], "nice": false, "zero": false},
          "axis": {
            "values": [0, 1000, 2000, 3000, 4000, 5000, 6000, 7000],
            "format": "d",
            "labelExpr": "datum.value % 2000 === 0 ? datum.label : ''",
            "gridWidth": {"condition": {"test": "datum.value % 2000 === 0", "value": 2.2}, "value": 1.1},
            "title": null
          }
        },
        "color": {"field": "b", "type": "nominal", "title": "Bilirubin"}
      }
    },
    {
      "title": {"text": "(D) Oxidative metabolites"},
      "width": 411,
      "height": 430,
      "data": {"name": "D"},
      "mark": {"type": "line", "interpolate": "monotone", "strokeWidth": 3.3},
      "encoding": {
        "x": {
          "field": "t", "type": "quantitative",
          "scale": {"domain": [-1.2, 25.2], "nice": false, "zero": false},
          "axis": {
            "values": [0, 2.5, 5, 7.5, 10, 12.5, 15, 17.5, 20, 22.5, 25],
            "labelExpr": "datum.value % 5 === 0 ? datum.label : ''",
            "labelPadding": 9,
            "gridWidth": {"condition": {"test": "datum.value % 5 === 0", "value": 2.2}, "value": 1.1},
            "title": "Replicates Figure 4 of Zhao 2025.",
            "titleX": 409,
            "titleY": 95,
            "titleAlign": "right",
            "titleBaseline": "middle",
            "titleFontSize": 23.5
          }
        },
        "y": {
          "field": "c", "type": "quantitative",
          "scale": {"domain": [-40, 844], "nice": false, "zero": false},
          "axis": {
            "values": [0, 100, 200, 300, 400, 500, 600, 700, 800],
            "format": "d",
            "labelExpr": "datum.value % 200 === 0 ? datum.label : ''",
            "gridWidth": {"condition": {"test": "datum.value % 200 === 0", "value": 2.2}, "value": 1.1},
            "title": null
          }
        },
        "color": {"field": "b", "type": "nominal", "title": "Bilirubin"}
      }
    }
  ],
  "resolve": {"scale": {"color": "shared"}},
  "config": {
    "font": "DejaVu Sans",
    "view": {"stroke": null},
    "axis": {
      "domain": false,
      "ticks": false,
      "tickSize": 0,
      "grid": true,
      "gridColor": "#EBEBEB",
      "labelColor": "#4D4D4D",
      "labelFontSize": 23.5,
      "labelPadding": 14,
      "titleFontSize": 29.3,
      "titleFontWeight": "normal",
      "titleColor": "black"
    },
    "title": {
      "fontSize": 23.5,
      "fontWeight": "normal",
      "color": "#1A1A1A",
      "anchor": "middle",
      "offset": 12
    },
    "range": {
      "category": ["#F8766D", "#7CAE00", "#00BFC4", "#C77CFF"]
    },
    "legend": {
      "orient": "none",
      "legendX": 967,
      "legendY": 348,
      "titleFontSize": 29.3,
      "titleFontWeight": "normal",
      "titleColor": "black",
      "titlePadding": 16,
      "labelFontSize": 23.5,
      "labelColor": "black",
      "labelLimit": 400,
      "labelOffset": 19,
      "symbolType": "stroke",
      "symbolSize": 1400,
      "symbolStrokeWidth": 3.3,
      "rowPadding": 14,
      "padding": 0
    }
  }
}
